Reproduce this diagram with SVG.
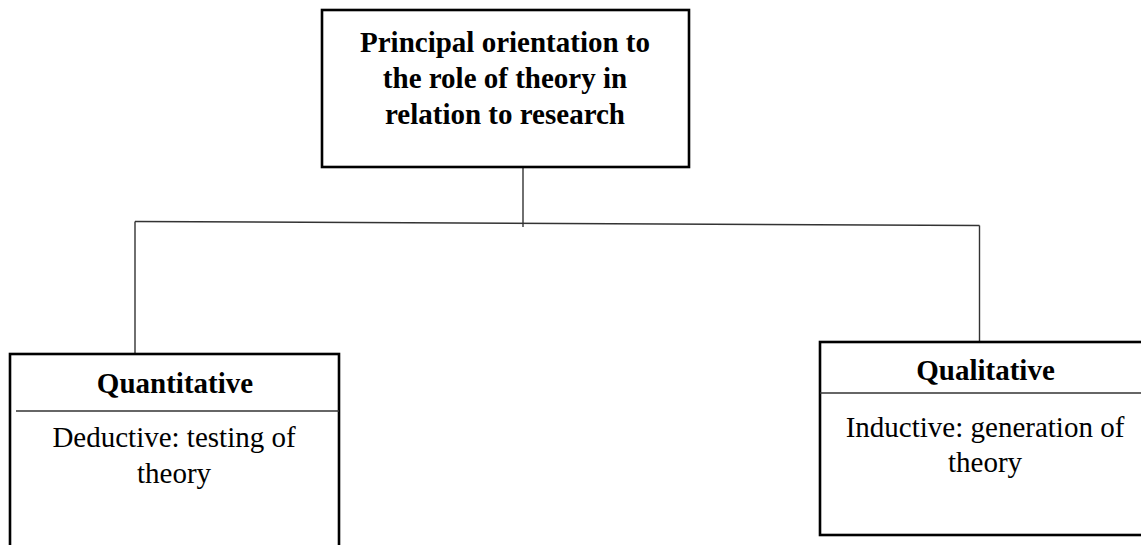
<svg xmlns="http://www.w3.org/2000/svg" width="1141" height="545" viewBox="0 0 1141 545">
  <style>
    .box { fill: #ffffff; stroke: #000000; stroke-width: 2.6; }
    .divider { stroke: #333333; stroke-width: 1.3; fill: none; }
    .conn { stroke: #333333; stroke-width: 1.4; fill: none; }
    .title { font-family: "Liberation Serif", "Times New Roman", serif; font-weight: bold; font-size: 29px; fill: #000000; text-anchor: middle; }
    .body { font-family: "Liberation Serif", "Times New Roman", serif; font-size: 29px; fill: #000000; text-anchor: middle; }
  </style>
  <rect width="1141" height="545" fill="#ffffff"/>

  <!-- connectors -->
  <g id="connectors">
    <line class="conn" x1="523" y1="167" x2="523" y2="227"/>
    <line class="conn" x1="135" y1="221.5" x2="979.5" y2="225.5"/>
    <line class="conn" x1="135" y1="221.5" x2="135" y2="354"/>
    <line class="conn" x1="979.5" y1="225.5" x2="979.5" y2="342"/>
  </g>

  <!-- root node -->
  <g id="principal">
    <rect class="box" x="322" y="10" width="367" height="157"/>
    <text class="title" x="505" y="52">Principal orientation to</text>
    <text class="title" x="505" y="88">the role of theory in</text>
    <text class="title" x="505" y="124">relation to research</text>
  </g>

  <!-- left node -->
  <g id="quantitative">
    <rect class="box" x="10" y="354" width="329" height="200"/>
    <line class="divider" x1="16" y1="411" x2="339" y2="411"/>
    <text class="title" x="175" y="393">Quantitative</text>
    <text class="body" x="174" y="447">Deductive: testing of</text>
    <text class="body" x="174" y="483">theory</text>
  </g>

  <!-- right node -->
  <g id="qualitative">
    <rect class="box" x="820" y="342" width="340" height="193"/>
    <line class="divider" x1="820" y1="393" x2="1150" y2="393"/>
    <text class="title" x="985.5" y="380">Qualitative</text>
    <text class="body" x="985" y="437">Inductive: generation of</text>
    <text class="body" x="985" y="472">theory</text>
  </g>
</svg>
